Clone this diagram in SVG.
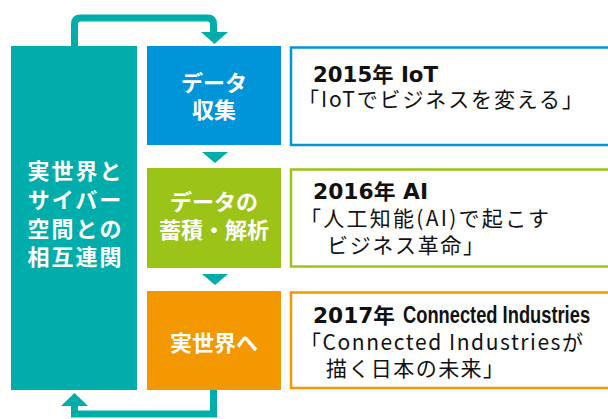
<svg xmlns="http://www.w3.org/2000/svg" width="608" height="419" viewBox="0 0 608 419">
<defs>
<style>
.lbl{font-family:"Noto Sans CJK JP",sans-serif;font-weight:bold;font-size:22px;fill:#fff;text-anchor:middle}
.ttl{font-family:"DejaVu Sans","Noto Sans CJK JP",sans-serif;font-weight:bold;font-size:21px;fill:#111}
.cnd{font-family:"Liberation Sans",sans-serif;font-weight:bold;font-size:24px;fill:#111}
.sub{font-family:"Noto Sans CJK JP",sans-serif;font-size:21px;fill:#111}
.conn{fill:none;stroke:#00ADAA;stroke-width:7}
.head{fill:#00ADAA}
</style>
</defs>
<rect width="608" height="419" fill="#fff"/>
<g id="connectors">
<path class="conn" d="M74.5,46 V24 Q74.5,18 80.5,18 H207.5 Q213.5,18 213.5,24 V34"/>
<polygon class="head" points="201,32 228,32 214.5,44"/>
<path class="conn" d="M213.5,390 V414 H74.5 V404"/>
<polygon class="head" points="61,406 88,406 74.5,393"/>
<polygon class="head" points="202,152 228,152 215,163"/>
<polygon class="head" points="202,274 228,274 215,285"/>
</g>
<g id="node-left">
<rect x="11" y="46" width="126" height="344" fill="#00ADAA"/>
<text class="lbl" style="letter-spacing:2px" x="75.5" y="179">実世界と</text>
<text class="lbl" style="letter-spacing:2px" x="75.5" y="208">サイバー</text>
<text class="lbl" style="letter-spacing:2px" x="75.5" y="237">空間との</text>
<text class="lbl" style="letter-spacing:2px" x="75.5" y="265">相互連関</text>
</g>
<g id="node-collect">
<rect x="147" y="46" width="134" height="99" fill="#0095D9"/>
<text class="lbl" x="214" y="91">データ</text>
<text class="lbl" x="214" y="118">収集</text>
</g>
<g id="node-analyze">
<rect x="147" y="168" width="134" height="100" fill="#9CC317"/>
<text class="lbl" x="214" y="210">データの</text>
<text class="lbl" x="214" y="238">蓄積・解析</text>
</g>
<g id="node-real">
<rect x="147" y="291" width="134" height="99" fill="#F39800"/>
<text class="lbl" x="214" y="351">実世界へ</text>
</g>
<g id="node-2015">
<rect x="291" y="47.5" width="325" height="97.5" fill="#fff" stroke="#0095D9" stroke-width="2.5"/>
<text class="ttl" x="313" y="82" textLength="125" lengthAdjust="spacingAndGlyphs">2015年 IoT</text>
<text class="sub" x="298" y="107" textLength="285" lengthAdjust="spacing">「IoTでビジネスを変える」</text>
</g>
<g id="node-2016">
<rect x="291" y="169.5" width="325" height="97" fill="#fff" stroke="#9CC317" stroke-width="2.5"/>
<text class="ttl" x="313" y="199" textLength="115" lengthAdjust="spacingAndGlyphs">2016年 AI</text>
<text class="sub" x="300" y="226" textLength="249" lengthAdjust="spacing">「人工知能(AI)で起こす</text>
<text class="sub" x="327" y="253" textLength="157" lengthAdjust="spacing">ビジネス革命」</text>
</g>
<g id="node-2017">
<rect x="291" y="292.5" width="325" height="95.5" fill="#fff" stroke="#F39800" stroke-width="2.5"/>
<text class="ttl" x="313" y="323" textLength="82" lengthAdjust="spacingAndGlyphs">2017年</text>
<text class="cnd" transform="translate(403,323) scale(0.763,1)">Connected Industries</text>
<text class="sub" x="300" y="350" textLength="283" lengthAdjust="spacing">「Connected Industriesが</text>
<text class="sub" x="326" y="376" textLength="178" lengthAdjust="spacing">描く日本の未来」</text>
</g>
</svg>
